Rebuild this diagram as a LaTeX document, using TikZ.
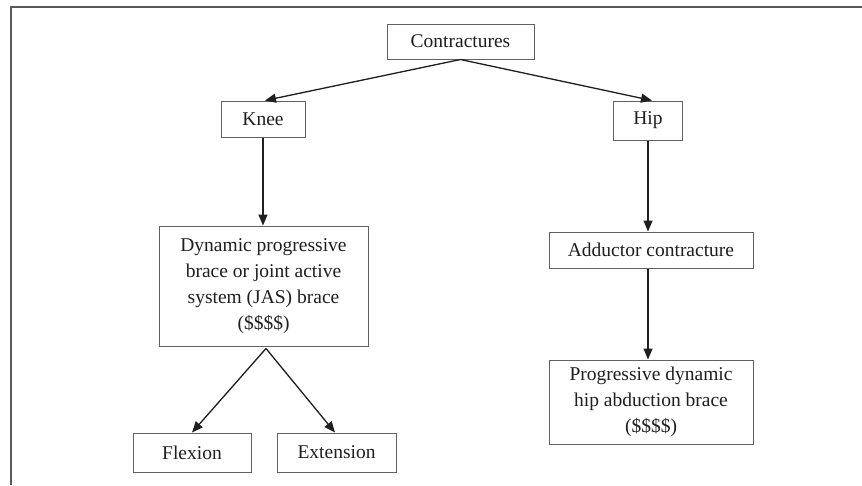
\documentclass[tikz,border=0pt]{standalone}
\usepackage{fontspec}
\setmainfont{Liberation Serif}
\usetikzlibrary{arrows.meta}
\definecolor{boxgray}{gray}{0.38}
\definecolor{framegray}{gray}{0.35}
\definecolor{inkblack}{gray}{0.12}
\begin{document}
\begin{tikzpicture}[x=1pt, y=-1pt,
  box/.style={draw=boxgray, line width=1pt, rectangle, inner sep=0pt,
    align=center, text=inkblack, font=\fontsize{19.5}{26}\selectfont},
  link/.style={-{Triangle[length=11pt,width=9pt]}, line width=1.3pt, draw=inkblack, fill=inkblack},
]
\useasboundingbox (0,0) rectangle (862,485);
\fill[white] (0,0) rectangle (862,485);
% open frame: left and top sides
\draw[line width=2pt, framegray] (11,485) -- (11,7) -- (862,7);

% boxes
\node[box, minimum width=147pt, minimum height=35pt] (cont) at (460.5,41.5) {Contractures};
\node[box, minimum width=84pt, minimum height=36pt] (knee) at (263,119) {Knee};
\node[box, minimum width=69pt, minimum height=39pt] (hip) at (648,120.5) {Hip};
\node[box, minimum width=209pt, minimum height=120pt] (dyn) at (263.5,286)
  {Dynamic progressive\\brace or joint active\\system (JAS) brace\\(\$\$\$\$)};
\node[box, minimum width=118pt, minimum height=39pt] (flex) at (192,452.5) {Flexion};
\node[box, minimum width=119pt, minimum height=39pt] (ext) at (336.5,452.5) {Extension};
\node[box, minimum width=204pt, minimum height=36pt] (add) at (651,250) {Adductor contracture};
\node[box, minimum width=204pt, minimum height=84pt] (prog) at (651,402)
  {Progressive dynamic\\hip abduction brace\\(\$\$\$\$)};

% connectors
\draw[link] (cont.south) -- ([xshift=2pt]knee.north);
\draw[link] (cont.south) -- ([xshift=4pt]hip.north);
\draw[link] (knee.south) -- (dyn.north -| knee.south);
\draw[link] (hip.south) -- (add.north -| hip.south);
\draw[link] (add.south -| hip.south) -- (prog.north -| hip.south);
\draw[link] ([xshift=2.5pt,yshift=-2pt]dyn.south) -- (flex.north);
\draw[link] ([xshift=2.5pt,yshift=-2pt]dyn.south) -- ([xshift=-1.5pt]ext.north);
\end{tikzpicture}
\end{document}
